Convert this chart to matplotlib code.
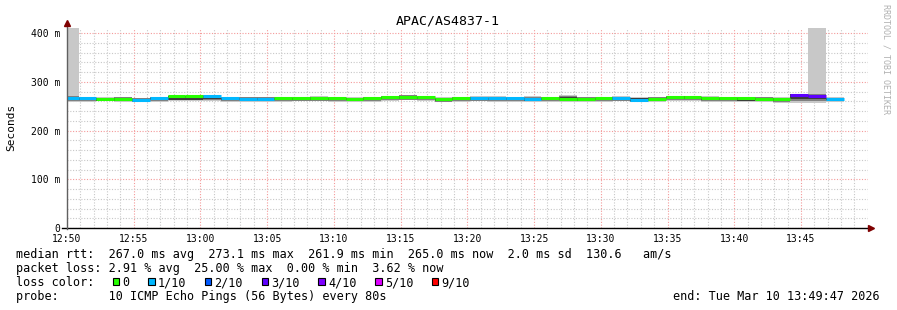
import numpy as np
import matplotlib
matplotlib.use("Agg")
import matplotlib.pyplot as plt
from matplotlib.lines import Line2D
from matplotlib.patches import Rectangle

W, H = 897, 310
MONO = "DejaVu Sans Mono"

# x ticks: minutes after 12:50
tick_min = [0, 5, 10, 15, 20, 25, 30, 35, 40, 45, 50, 55]
tick_lab = ["12:50", "12:55", "13:00", "13:05", "13:10", "13:15",
            "13:20", "13:25", "13:30", "13:35", "13:40", "13:45"]
ytick_val = [0, 100, 200, 300, 400]
ytick_lab = ["0", "100 m", "200 m", "300 m", "400 m"]

# rrd steps (80 s), first step starts 12:49:32.5
t_first = -27.5 / 60.0
step = 80 / 60.0
n_steps = 44

# median rtt per step (ms)
med = [266.5, 266.5, 264.5, 264.5, 261.9, 266.0, 270.5, 270.5, 270.5, 266.0,
       265.5, 265.5, 266.0, 266.0, 266.0, 266.0, 265.0, 266.0, 268.5, 270.0,
       268.5, 264.0, 266.0, 266.5, 266.0, 266.0, 265.5, 266.0, 265.5, 265.0,
       266.0, 267.0, 263.5, 265.5, 268.5, 268.5, 266.0, 266.0, 266.0, 265.5,
       265.0, 273.1, 270.5, 265.0]
# lost pings out of 10
loss = [1, 1, 0, 0, 1, 1, 0, 0, 1, 1,
        1, 1, 0, 0, 0, 0, 0, 0, 0, 0,
        0, 0, 0, 1, 1, 1, 1, 0, 0, 0,
        0, 1, 1, 0, 0, 0, 0, 0, 0, 0,
        0, 3, 3, 1]
# smoke: min / inner low / inner high / max ping (ms)
p_lo = [258.5, 259.0, 260.0, 259.5, 258.0, 259.0, 261.0, 261.0, 261.0, 259.5,
        259.0, 259.0, 259.5, 260.0, 260.0, 259.5, 259.0, 259.0, 260.0, 262.0,
        261.0, 258.5, 259.5, 260.0, 259.5, 259.0, 258.5, 259.0, 259.5, 258.5,
        259.0, 260.0, 258.5, 259.0, 260.5, 260.5, 259.5, 258.5, 258.5, 259.0,
        257.5, 257.0, 257.0, 258.5]
p_q1 = [262.0, 262.5, 261.5, 261.5, 260.0, 262.0, 263.5, 263.5, 265.0, 262.5,
        262.0, 262.0, 262.5, 263.0, 263.0, 262.5, 262.0, 262.5, 264.0, 265.5,
        264.5, 261.0, 262.5, 263.0, 262.5, 262.0, 261.5, 262.5, 262.0, 261.5,
        262.5, 263.5, 261.0, 262.0, 264.0, 264.5, 262.5, 262.0, 261.5, 262.0,
        261.0, 265.0, 264.0, 262.0]
p_q3 = [268.0, 268.0, 266.5, 266.5, 264.5, 268.0, 271.0, 271.0, 271.5, 268.0,
        267.5, 267.5, 268.0, 268.0, 268.5, 268.0, 267.0, 268.0, 270.0, 271.5,
        270.0, 266.0, 268.0, 268.5, 268.0, 268.0, 267.5, 268.0, 268.5, 267.0,
        268.0, 269.0, 266.0, 267.5, 270.0, 270.5, 268.5, 268.0, 267.5, 267.5,
        267.0, 274.5, 272.5, 267.0]
p_hi = [430.0, 270.0, 269.5, 270.0, 268.0, 269.5, 273.0, 273.0, 273.0, 270.0,
        270.0, 269.5, 269.5, 270.0, 270.5, 270.0, 268.5, 270.0, 272.0, 273.5,
        272.0, 268.5, 270.0, 271.0, 270.5, 270.0, 270.5, 270.0, 274.0, 269.5,
        270.0, 271.0, 270.0, 269.5, 271.5, 272.0, 271.0, 270.0, 269.5, 269.5,
        268.5, 276.0, 430.0, 268.5]

loss_colors = {0: "#26ff00", 1: "#00b8ff", 2: "#0059ff", 3: "#5e00ff",
               4: "#7e00ff", 5: "#dd00ff", 9: "#ff0000"}
legend_keys = [0, 1, 2, 3, 4, 5, 9]
legend_labels = ["0", "1/10", "2/10", "3/10", "4/10", "5/10", "9/10"]


def fx(x):
    return x / W


def fy(y):
    return 1 - y / H


fig = plt.figure(figsize=(W / 100, H / 100), dpi=100)
fig.patch.set_facecolor("white")
ax = fig.add_axes([fx(67), fy(228), (867.7 - 67) / W, (228 - 28) / H])
ax.set_xlim(0, 60)
ax.set_ylim(0, 410.8)
for s in ax.spines.values():
    s.set_visible(False)

edges = t_first + step * np.arange(n_steps + 1)
lo = np.array(p_lo)
hi = np.array(p_hi)
q1 = np.array(p_q1)
q3 = np.array(p_q3)
mid_lo = (lo + q1) / 2
mid_hi = np.minimum((q3 + hi) / 2, q3 + 2.5)

# smoke layers, then the median coloured by loss
ax.stairs(hi, edges, baseline=lo, fill=True, color="#c8c8c8", zorder=2)
ax.stairs(mid_hi, edges, baseline=mid_lo, fill=True, color="#808080", zorder=3)
ax.stairs(q3, edges, baseline=q1, fill=True, color="#3c3c3c", zorder=4)
ax.hlines(med, edges[:-1], edges[1:], colors=[loss_colors[l] for l in loss],
          lw=2.2, zorder=5, capstyle="butt")

# grid
ax.set_xticks(tick_min, tick_lab)
ax.set_xticks(np.arange(0, 61, 1), minor=True)
ax.set_yticks(ytick_val, ytick_lab)
ax.set_yticks(np.arange(0, 411, 20), minor=True)
ax.grid(which="minor", color="#c8c8c8", linestyle=(0, (1, 1.5)), lw=0.8)
ax.grid(which="major", color="#f49a9a", linestyle=(0, (1, 1.5)), lw=0.8)
ax.set_axisbelow(True)
ax.tick_params(which="both", length=0)
ax.tick_params(axis="x", pad=4.5, labelsize=7)
ax.tick_params(axis="y", pad=5, labelsize=7)
for lab in ax.get_xticklabels() + ax.get_yticklabels():
    lab.set_family(MONO)

# axes with arrows
fig.add_artist(Line2D([fx(62), fx(868)], [fy(228), fy(228)], color="black", lw=1))
fig.add_artist(Line2D([fx(67), fx(67)], [fy(229), fy(25)], color="#606060", lw=1))
fig.add_artist(Line2D([fx(67)], [fy(23)], marker="^", color="#7f0000", ms=4.5, ls=""))
fig.add_artist(Line2D([fx(871)], [fy(228)], marker=">", color="#7f0000", ms=4.5, ls=""))

# texts
fig.text(fx(448), fy(24), "APAC/AS4837-1", ha="center", va="baseline",
         family=MONO, fontsize=9.5)
fig.text(fx(11), fy(127), "Seconds", ha="center", va="center", rotation=90,
         family=MONO, fontsize=8)
fig.text(fx(886), fy(4), "RRDTOOL / TOBI OETIKER", ha="center", va="top",
         rotation=270, family=MONO, fontsize=6, color="#b0b0b0")

fs = 8.48
fig.text(fx(16), fy(258), "median rtt:  267.0 ms avg  273.1 ms max  261.9 ms min  "
         "265.0 ms now  2.0 ms sd  130.6   am/s", family=MONO, fontsize=fs, va="baseline")
fig.text(fx(16), fy(272), "packet loss: 2.91 % avg  25.00 % max  0.00 % min  3.62 % now",
         family=MONO, fontsize=fs, va="baseline")
fig.text(fx(16), fy(286), "loss color:", family=MONO, fontsize=fs, va="baseline")
fig.text(fx(16), fy(300), "probe:       10 ICMP Echo Pings (56 Bytes) every 80s",
         family=MONO, fontsize=fs, va="baseline")
fig.text(fx(880), fy(300), "end: Tue Mar 10 13:49:47 2026", family=MONO,
         fontsize=fs, va="baseline", ha="right")

cw = 7.09
n = 13
for key, lab in zip(legend_keys, legend_labels):
    x0 = 16 + cw * n + 4.5
    fig.add_artist(Rectangle((fx(x0), fy(285)), 6.5 / W, 7 / H, transform=fig.transFigure,
                             facecolor=loss_colors[key], edgecolor="black", lw=0.8))
    fig.text(fx(16 + cw * (n + 2)), fy(286), lab, family=MONO, fontsize=fs, va="baseline")
    n += len(lab) + 4

fig.savefig("out.png", dpi=100, facecolor="white")
